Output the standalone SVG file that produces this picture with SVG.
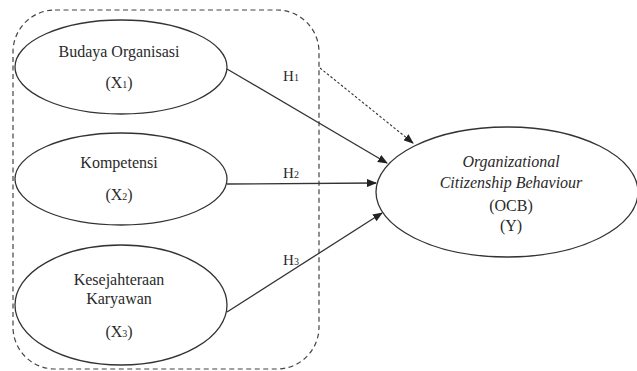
<svg xmlns="http://www.w3.org/2000/svg" width="637" height="371" viewBox="0 0 637 371">
<style>
.node{fill:#fff;stroke:#333;stroke-width:1.3}
text{font-family:"Liberation Serif","Times New Roman",serif;font-size:16px;fill:#2a2a2a;text-anchor:middle}
.it{font-style:italic}
.sub{font-size:10px}
.h{font-size:15px}
.conn{stroke:#333;stroke-width:1.3;fill:none}
.dot{stroke:#333;stroke-width:1.1;fill:none;stroke-dasharray:2.5,2}
</style>
<defs>
<marker id="ah" markerWidth="10" markerHeight="8" refX="9" refY="4" orient="auto" markerUnits="userSpaceOnUse">
<path d="M0,0 L10,4 L0,8 Z" fill="#222"/>
</marker>
</defs>
<rect x="13" y="10" width="306" height="359" rx="42" ry="42" fill="none" stroke="#444" stroke-width="1.2" stroke-dasharray="5,3.5"/>
<g id="x1">
<ellipse class="node" cx="121" cy="67" rx="106" ry="47"/>
<text x="119" y="57">Budaya Organisasi</text>
<text x="119" y="88">(X<tspan class="sub">1</tspan>)</text>
</g>
<g id="x2">
<ellipse class="node" cx="121" cy="179" rx="106" ry="46"/>
<text x="119" y="168">Kompetensi</text>
<text x="119" y="200">(X<tspan class="sub">2</tspan>)</text>
</g>
<g id="x3">
<ellipse class="node" cx="121" cy="305" rx="106" ry="60"/>
<text x="119" y="285">Kesejahteraan</text>
<text x="119" y="304">Karyawan</text>
<text x="119" y="337">(X<tspan class="sub">3</tspan>)</text>
</g>
<g id="y">
<ellipse class="node" cx="507" cy="192" rx="131" ry="65"/>
<text class="it" x="511" y="167">Organizational</text>
<text class="it" x="511" y="188">Citizenship Behaviour</text>
<text x="511" y="211">(OCB)</text>
<text x="511" y="231">(Y)</text>
</g>
<g id="connectors">
<line class="conn" x1="227" y1="69" x2="387" y2="163" marker-end="url(#ah)"/>
<line class="conn" x1="227" y1="184" x2="376" y2="183" marker-end="url(#ah)"/>
<line class="conn" x1="227" y1="312" x2="382" y2="213" marker-end="url(#ah)"/>
<line class="dot" x1="320" y1="68" x2="413" y2="143" marker-end="url(#ah)"/>
<text class="h" x="291" y="81">H<tspan class="sub">1</tspan></text>
<text class="h" x="291" y="178">H<tspan class="sub">2</tspan></text>
<text class="h" x="291" y="265">H<tspan class="sub">3</tspan></text>
</g>
</svg>
